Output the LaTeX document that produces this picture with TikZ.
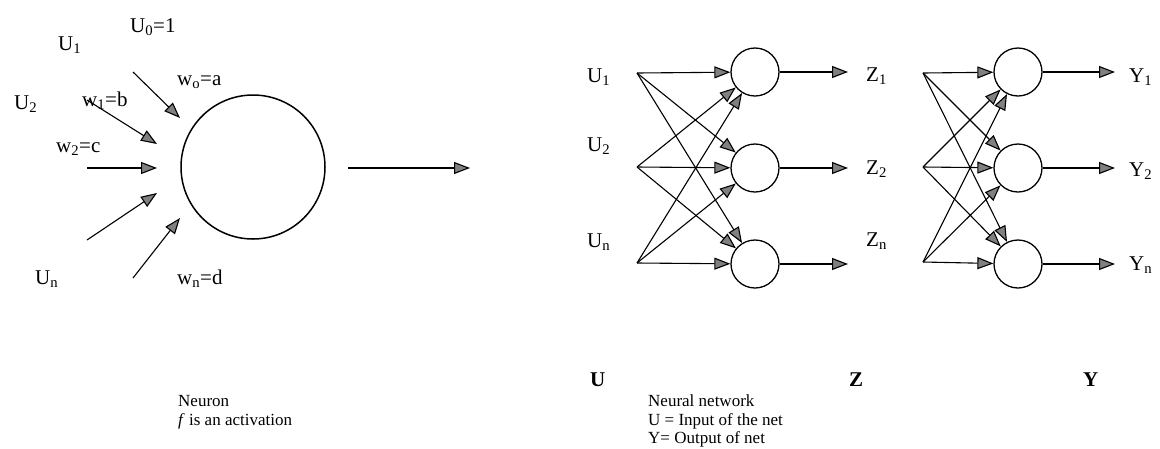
\documentclass[tikz,border=0pt]{standalone}
\usepackage{fontspec}
\setmainfont{Liberation Serif}
\usetikzlibrary{arrows.meta}
\begin{document}
\begin{tikzpicture}[x=1pt,y=-1pt,
  lbl/.style={anchor=base west, inner sep=0pt, font=\fontsize{21}{25}\selectfont},
  txt/.style={anchor=base west, inner sep=0pt, font=\fontsize{17}{20}\selectfont},
  arr/.style={line width=1.1pt, -{Triangle[length=16pt,width=12pt,fill=black!50]}},
  neuron/.style={circle, draw, line width=1.3pt, minimum size=48pt, inner sep=0pt},
  bigneuron/.style={circle, draw, line width=1.5pt, minimum size=144pt, inner sep=0pt}]
\clip (0,0) rectangle (1160,448);
\fill[white] (0,0) rectangle (1160,448);

% ---------- single neuron ----------
\node[bigneuron] (N) at (253,167) {};
\node[lbl] (u0) at (130,32) {U\textsubscript{0}=1};
\node[lbl] (u1) at (58,50) {U\textsubscript{1}};
\node[lbl] (wo) at (177,85) {w\textsubscript{o}=a};
\node[lbl] (u2) at (14,109) {U\textsubscript{2}};
\node[lbl] (w1) at (82,106) {w\textsubscript{1}=b};
\node[lbl] (w2) at (56,152) {w\textsubscript{2}=c};
\node[lbl] (un) at (35,284) {U\textsubscript{n}};
\node[lbl] (wn) at (177,284) {w\textsubscript{n}=d};

\coordinate (a0s) at (133,72);  \coordinate (a0e) at (180,118);
\coordinate (a1s) at (87,100);  \coordinate (a1e) at (157,144);
\coordinate (a2s) at (87,168);  \coordinate (a2e) at (157,168);
\coordinate (a3s) at (87,240);  \coordinate (a3e) at (157,193);
\coordinate (a4s) at (133,278); \coordinate (a4e) at (180,218);
\coordinate (outs) at (348,168); \coordinate (oute) at (470,168);
\draw[arr] (a0s) -- (a0e);
\draw[arr] (a1s) -- (a1e);
\draw[arr] (a2s) -- (a2e);
\draw[arr] (a3s) -- (a3e);
\draw[arr] (a4s) -- (a4e);
\draw[arr] (outs) -- (oute);

\node[txt] (t1) at (178,406) {Neuron};
\node[txt] (t2) at (178,425) {\textit{f} is an activation};

% ---------- network ----------
\node[lbl] (U1) at (587,82) {U\textsubscript{1}};
\node[lbl] (U2) at (587,151) {U\textsubscript{2}};
\node[lbl] (Un) at (587,247) {U\textsubscript{n}};
\coordinate (s1) at (637,73);
\coordinate (s2) at (637,167);
\coordinate (s3) at (637,263);
\node[neuron] (h1) at (755,72) {};
\node[neuron] (h2) at (755,168) {};
\node[neuron] (h3) at (755,264) {};
\foreach \s in {s1,s2,s3}
  \foreach \h in {h1,h2,h3}
    \draw[arr] (\s) -- (\h);
\coordinate (ho1) at (848,72);
\coordinate (ho2) at (848,168);
\coordinate (ho3) at (848,264);
\draw[arr] (h1) -- (ho1);
\draw[arr] (h2) -- (ho2);
\draw[arr] (h3) -- (ho3);
\node[lbl] (Z1) at (866,81) {Z\textsubscript{1}};
\node[lbl] (Z2) at (866,174) {Z\textsubscript{2}};
\node[lbl] (Zn) at (866,246) {Z\textsubscript{n}};

\coordinate (z1) at (923,73);
\coordinate (z2) at (923,167);
\coordinate (z3) at (923,262);
\node[neuron] (y1) at (1018,72) {};
\node[neuron] (y2) at (1018,168) {};
\node[neuron] (y3) at (1018,264) {};
\foreach \s in {z1,z2,z3}
  \foreach \h in {y1,y2,y3}
    \draw[arr] (\s) -- (\h);
\coordinate (yo1) at (1115,72);
\coordinate (yo2) at (1115,168);
\coordinate (yo3) at (1115,264);
\draw[arr] (y1) -- (yo1);
\draw[arr] (y2) -- (yo2);
\draw[arr] (y3) -- (yo3);
\node[lbl] (Y1) at (1129,82) {Y\textsubscript{1}};
\node[lbl] (Y2) at (1129,176) {Y\textsubscript{2}};
\node[lbl] (Yn) at (1129,270) {Y\textsubscript{n}};

\node[lbl,font=\fontsize{21}{25}\selectfont\bfseries] (BU) at (590,386) {U};
\node[lbl,font=\fontsize{21}{25}\selectfont\bfseries] (BZ) at (849,386) {Z};
\node[lbl,font=\fontsize{21}{25}\selectfont\bfseries] (BY) at (1083,386) {Y};

\node[txt] (r1) at (648,406) {Neural network};
\node[txt] (r2) at (648,425) {U = Input of the net};
\node[txt] (r3) at (648,443) {Y= Output of net};
\end{tikzpicture}
\end{document}
